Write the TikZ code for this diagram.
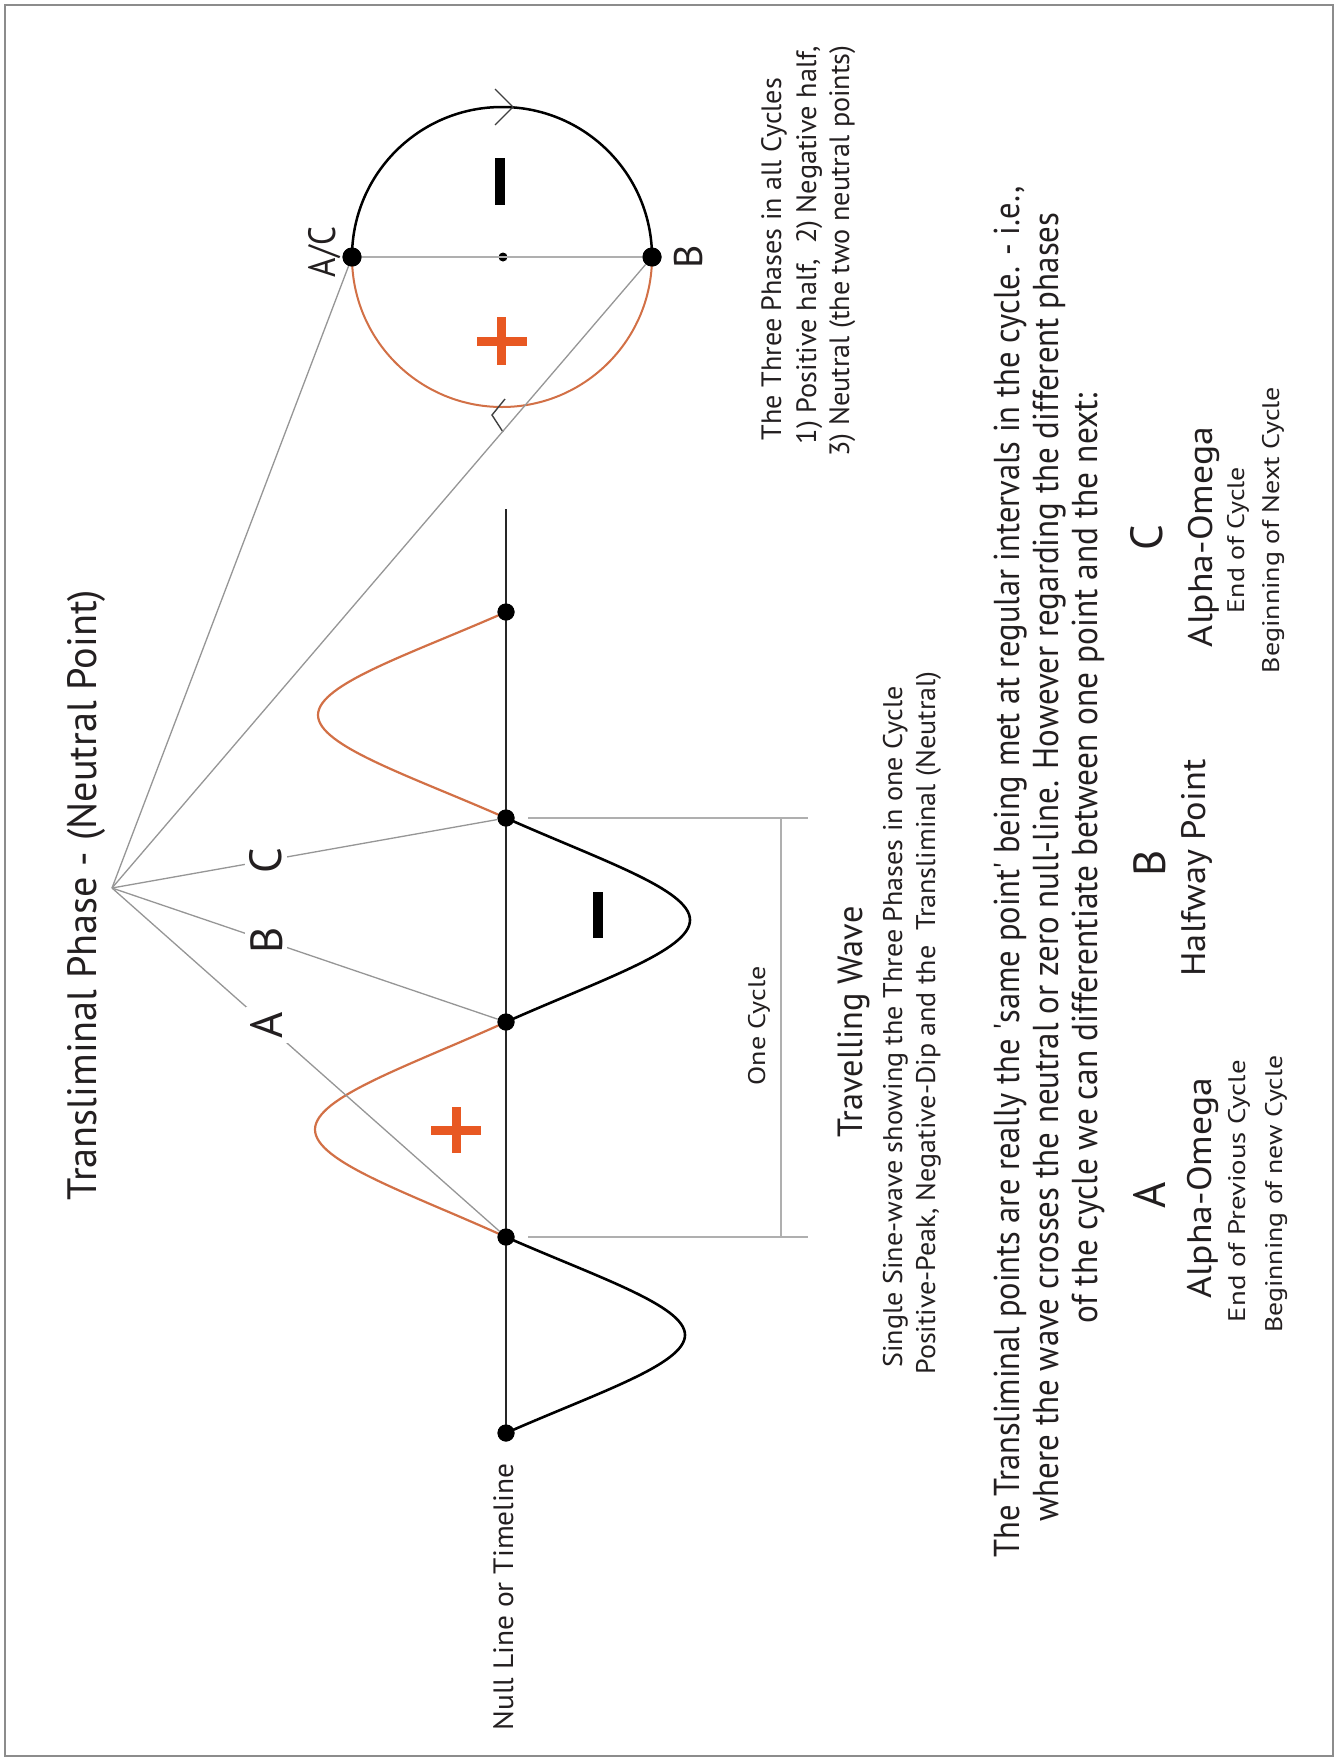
\documentclass[tikz,border=0pt]{standalone}
\usepackage{fontspec}
\setmainfont{PT Sans}
\usepackage{graphicx}
\definecolor{orangeline}{RGB}{210,112,70}
\definecolor{plusorange}{RGB}{232,88,34}
\definecolor{raygray}{RGB}{150,150,150}
\definecolor{brgray}{RGB}{175,175,175}
\definecolor{textcol}{RGB}{35,31,32}
\definecolor{framegray}{RGB}{140,140,140}
\newcommand{\fitt}[3]{\resizebox{#1pt}{\height}{\fontsize{#2pt}{#2pt}\selectfont #3}}
\begin{document}
\begin{tikzpicture}[x=1pt,y=-1pt,
  txt/.style={rotate=90, anchor=base, inner sep=0pt, text=textcol},
  lbl/.style={rotate=90, fill=white, inner sep=5pt, text=textcol, font=\fontsize{45pt}{45pt}\selectfont},
  dot/.style={circle, fill=black, inner sep=0pt, minimum size=17pt},
  bigdot/.style={circle, fill=black, inner sep=0pt, minimum size=19pt},
  ray/.style={draw=raygray, line width=1.3pt},
  bracket/.style={draw=brgray, line width=1.3pt},
  blacklobe/.style={draw=black, line width=2.6pt},
  orangelobe/.style={draw=orangeline, line width=2.2pt},
  signplus/.style={draw=plusorange, line width=9pt},
  signminus/.style={draw=black, line width=10pt},
  chev/.style={draw=black!75, line width=1.4pt}]
\useasboundingbox (0,0) rectangle (1338,1762);
\fill[white] (0,0) rectangle (1338,1762);
\draw[framegray, line width=2.5pt] (5,5) rectangle (1333,1756);

% title
\node[txt] (title) at (96,895) {\fitt{610}{41}{Transliminal Phase - (Neutral Point)}};
\coordinate (apex) at (112,888);

% null line
\coordinate (nulltop) at (506,509);
\node[dot] (d0) at (506,1433) {};
\node[dot] (d1) at (506,1237) {};
\node[dot] (d2) at (506,1022) {};
\node[dot] (d3) at (506,818) {};
\node[dot] (d4) at (506,612) {};
\draw[draw=black!85, line width=2.5pt] (nulltop) -- (d0.center);

% wave
\foreach \ya/\yb/\amp/\sty in {1433/1237/179/blacklobe, 1237/1022/-191/orangelobe, 1022/818/184/blacklobe, 818/612/-188/orangelobe}{
  \pgfmathsetmacro{\h}{(\ya-\yb)/2}
  \pgfmathsetmacro{\ym}{(\ya+\yb)/2}
  \pgfmathsetmacro{\xa}{506+0.51*\amp}
  \pgfmathsetmacro{\xb}{506+\amp}
  \pgfmathsetmacro{\yc}{\ya-0.41*\h}
  \pgfmathsetmacro{\yd}{\ya-0.70*\h}
  \pgfmathsetmacro{\ye}{\yb+0.70*\h}
  \pgfmathsetmacro{\yf}{\yb+0.41*\h}
  \draw[\sty] (506,\ya) .. controls (\xa,\yc) and (\xb,\yd) .. (\xb,\ym) .. controls (\xb,\ye) and (\xa,\yf) .. (506,\yb);
}
\foreach \n in {d0,d1,d2,d3,d4}{\fill[black] (\n) circle (8.5);}

% signs on wave
\draw[signplus] (431,1130) -- (481,1130);
\draw[signplus] (456,1107) -- (456,1153);
\draw[signminus] (598,892) -- (598,938);

% circle
\node[bigdot] (cAC) at (352,257) {};
\node[bigdot] (cB) at (652,257) {};
\node[circle, fill=black, inner sep=0pt, minimum size=9pt] (cC) at (503,257) {};
\draw[draw=brgray, line width=1.3pt] (cAC) -- (cB);
\draw[draw=black, line width=2.5pt] (352,257) arc (180:360:150);
\draw[draw=orangeline, line width=2pt] (652,257) arc (0:180:150);
\fill[black] (cAC) circle (9.5);
\fill[black] (cB) circle (9.5);
\draw[chev] (495,89) -- (513,107) -- (495,125);
\draw[chev] (505,399) -- (492,415) -- (503,432);
\draw[signplus] (477,341) -- (527,341);
\draw[signplus] (501,317) -- (501,365);
\draw[signminus] (500,158) -- (500,205);
\node[txt] (lAC) at (335,252) {\fitt{50}{38}{A/C}};
\node[txt] (lB) at (702,257) {\fontsize{40pt}{40pt}\selectfont B};

% rays
\draw[ray] (apex) -- (cAC);
\draw[ray] (apex) -- (cB);
\draw[ray] (apex) -- node[lbl, pos=0.4] (rC) {C} (d3);
\draw[ray] (apex) -- node[lbl, pos=0.4] (rB) {B} (d2);
\draw[ray] (apex) -- node[lbl, pos=0.4] (rA) {A} (d1);

% one cycle bracket
\draw[bracket] (528,818) -- (808,818);
\draw[bracket] (528,1237) -- (808,1237);
\draw[bracket] (781,818) -- (781,1237);
\node[txt] (onecycle) at (765,1026) {\fitt{119}{24}{One Cycle}};

% null line label
\node[txt] (nulllbl) at (513,1597) {\fitt{267}{28}{Null Line or Timeline}};

% travelling wave
\node[txt] (tw1) at (862,1022) {\fitt{231}{35}{Travelling Wave}};
\node[txt] (tw2) at (902,1027) {\fitt{681}{27}{Single Sine-wave showing the Three Phases in one Cycle}};
\node[txt] (tw3) at (935,1023) {\fitt{703}{27}{Positive-Peak, Negative-Dip and the\ \ Transliminal (Neutral)}};

% three phases
\node[txt] (tp1) at (781,259) {\fitt{362}{28}{The Three Phases in all Cycles}};
\node[txt] (tp2) at (816,245) {\fitt{398}{28}{1) Positive half,\ \ 2) Negative half,}};
\node[txt] (tp3) at (849,251) {\fitt{411}{28}{3) Neutral (the two neutral points)}};

% paragraph
\node[txt] (p1) at (1019,872) {\fitt{1371}{36}{The Transliminal points are really the \textquotesingle same point\textquotesingle{} being met at regular intervals in the cycle. - i.e.,}};
\node[txt] (p2) at (1058,867) {\fitt{1309}{36}{where the wave crosses the neutral or zero null-line. However regarding the different phases}};
\node[txt] (p3) at (1097,858) {\fitt{930}{36}{of the cycle we can differentiate between one point and the next:}};

% columns
\node[txt] (colA) at (1165,1195) {\fontsize{45pt}{45pt}\selectfont A};
\node[txt] (colB) at (1165,863) {\fontsize{45pt}{45pt}\selectfont B};
\node[txt] (colC) at (1162,538) {\fontsize{45pt}{45pt}\selectfont C};
\node[txt] (aoA) at (1211,1188) {\fitt{220}{34}{Alpha-Omega}};
\node[txt] (half) at (1205,868) {\fitt{217}{34}{Halfway Point}};
\node[txt] (aoC) at (1212,537) {\fitt{220}{34}{Alpha-Omega}};
\node[txt] (endA) at (1245,1191) {\fitt{262}{24}{End of Previous Cycle}};
\node[txt] (begA) at (1282,1194) {\fitt{277}{24}{Beginning of new Cycle}};
\node[txt] (endC) at (1244,540) {\fitt{146}{24}{End of Cycle}};
\node[txt] (begC) at (1279,530) {\fitt{286}{24}{Beginning of Next Cycle}};
\end{tikzpicture}
\end{document}
